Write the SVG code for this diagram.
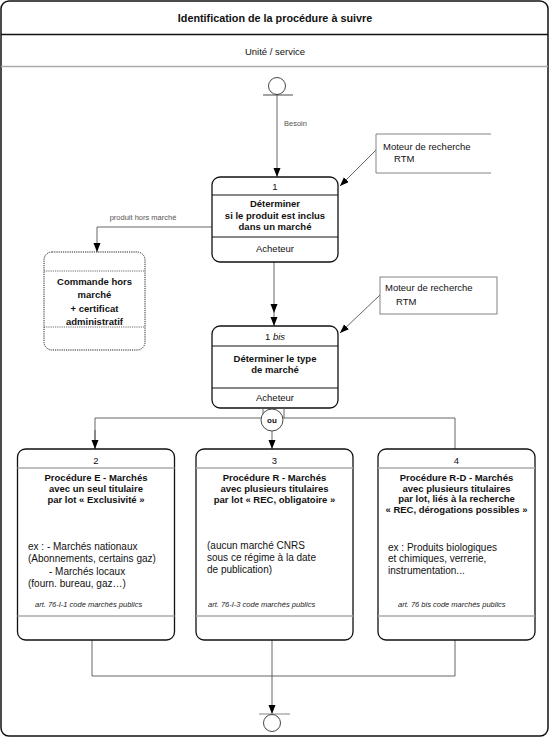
<svg xmlns="http://www.w3.org/2000/svg" width="550" height="738" viewBox="0 0 550 738">
<style>
text{font-family:"Liberation Sans",Arial,Helvetica,sans-serif;fill:#111}
.t{font-size:10.8px;font-weight:bold;text-anchor:middle}
.r{font-size:9.5px}
.p{font-size:10px}
.c{text-anchor:middle}
.b{font-size:9.5px;font-weight:bold;text-anchor:middle}
.s{font-size:7.5px;fill:#555}
.i{font-size:7.5px;font-style:italic;fill:#222}
.box{fill:#fff;stroke:#111;stroke-width:1.3}
.dv{stroke:#111;stroke-width:1}
.gv{stroke:#aaa;stroke-width:1.5}
.cn{fill:none;stroke:#555;stroke-width:0.9}
.note{fill:none;stroke:#777;stroke-width:0.9}
</style>
<defs>
<marker id="ar" markerUnits="userSpaceOnUse" markerWidth="10" markerHeight="8" refX="9" refY="3.5" orient="auto">
<path d="M0,0 L9,3.5 L0,7 z" fill="#000"/>
</marker>
</defs>
<g id="frame">
<rect x="1" y="1" width="547" height="735" rx="8" fill="#fff" stroke="#111" stroke-width="1.5"/>
<line x1="1" y1="34.5" x2="548" y2="34.5" stroke="#111" stroke-width="1.3"/>
<line x1="1" y1="66.5" x2="548" y2="66.5" stroke="#aaa" stroke-width="1.5"/>
<text class="t" x="275" y="22">Identification de la procédure à suivre</text>
<text class="r c" x="275" y="55">Unité / service</text>
</g>
<g id="connectors">
<line class="cn" x1="277" y1="95" x2="277" y2="177" marker-end="url(#ar)"/>
<text class="s" x="284" y="126">Besoin</text>
<path class="cn" d="M212,227 H97 V252" marker-end="url(#ar)"/>
<text class="s c" x="143" y="220">produit hors marché</text>
<line class="cn" x1="376" y1="150" x2="340" y2="186" marker-end="url(#ar)"/>
<line class="cn" x1="380" y1="295" x2="340" y2="333" marker-end="url(#ar)"/>
<line class="cn" x1="274" y1="262" x2="274" y2="313" marker-end="url(#ar)"/>
<line class="cn" x1="274" y1="313" x2="274" y2="326" marker-end="url(#ar)"/>
<path class="cn" d="M95,449 V418 H455 V449"/>
<line class="cn" x1="95" y1="430" x2="95" y2="449" marker-end="url(#ar)"/>
<line class="cn" x1="272" y1="431" x2="272" y2="449" marker-end="url(#ar)"/>
<path class="cn" d="M92,640 V676 H455 V640"/>
<line class="cn" x1="272" y1="640" x2="272" y2="714" marker-end="url(#ar)"/>
</g>
<g id="start">
<circle cx="277" cy="86" r="8.5" fill="#fff" stroke="#333" stroke-width="0.9"/>
<line x1="263" y1="95" x2="293" y2="95" stroke="#333" stroke-width="0.9"/>
</g>
<g id="note1">
<path class="note" d="M491,134 H376 V173 H491"/>
<text class="r" x="383" y="150">Moteur de recherche</text>
<text class="r" x="394" y="162">RTM</text>
</g>
<g id="node1">
<rect class="box" x="212" y="177" width="126" height="85" rx="8"/>
<line class="dv" x1="212" y1="195" x2="338" y2="195"/>
<line class="dv" x1="212" y1="237" x2="338" y2="237"/>
<text class="r c" x="275" y="190">1</text>
<text class="b" x="275" y="207">Déterminer</text>
<text class="b" x="275" y="219">si le produit est inclus</text>
<text class="b" x="275" y="230">dans un marché</text>
<text class="r c" x="275" y="252">Acheteur</text>
</g>
<g id="hors">
<rect x="44" y="252" width="101" height="98" rx="8" fill="#fff" stroke="#222" stroke-width="1" stroke-dasharray="1.2,1"/>
<line x1="44" y1="271" x2="145" y2="271" stroke="#444" stroke-width="0.8" stroke-dasharray="1.2,1"/>
<line x1="44" y1="327" x2="145" y2="327" stroke="#444" stroke-width="0.8" stroke-dasharray="1.2,1"/>
<text class="b" x="94.5" y="285">Commande hors</text>
<text class="b" x="94.5" y="298">marché</text>
<text class="b" x="94.5" y="312">+ certificat</text>
<text class="b" x="94.5" y="325">administratif</text>
</g>
<g id="note2">
<rect class="note" x="380" y="277" width="117" height="37"/>
<text class="r" x="385" y="291">Moteur de recherche</text>
<text class="r" x="396" y="305">RTM</text>
</g>
<g id="node1bis">
<rect class="box" x="212" y="326" width="126" height="82" rx="8"/>
<line class="dv" x1="212" y1="346" x2="338" y2="346"/>
<line class="dv" x1="212" y1="388" x2="338" y2="388"/>
<text class="r c" x="275" y="340">1 <tspan font-style="italic">bis</tspan></text>
<text class="b" x="275" y="362">Déterminer le type</text>
<text class="b" x="275" y="373">de marché</text>
<text class="r c" x="275" y="401">Acheteur</text>
</g>
<g id="ou">
<line x1="263" y1="408" x2="263" y2="418" stroke="#555" stroke-width="0.9"/>
<line x1="284" y1="408" x2="284" y2="418" stroke="#555" stroke-width="0.9"/>
<circle cx="272" cy="420" r="11" fill="#fff" stroke="#333" stroke-width="0.9"/>
<text x="272" y="423" font-size="8" font-weight="bold" text-anchor="middle">ou</text>
</g>
<g id="node2">
<rect class="box" x="17.5" y="449" width="157" height="191" rx="8"/>
<line class="gv" x1="17.5" y1="468" x2="174.5" y2="468"/>
<line class="gv" x1="17.5" y1="616" x2="174.5" y2="616"/>
<text class="r c" x="96" y="464">2</text>
<text class="b" x="96" y="481">Procédure E - Marchés</text>
<text class="b" x="96" y="492">avec un seul titulaire</text>
<text class="b" x="96" y="503">par lot « Exclusivité »</text>
<text class="p" x="28" y="550">ex : - Marchés nationaux</text>
<text class="p" x="28" y="562">(Abonnements, certains gaz)</text>
<text class="p" x="49" y="575">- Marchés locaux</text>
<text class="p" x="28" y="587">(fourn. bureau, gaz…)</text>
<text class="i" x="35" y="607">art. 76-I-1 code marchés publics</text>
</g>
<g id="node3">
<rect class="box" x="196" y="449" width="157" height="191" rx="8"/>
<line class="gv" x1="196" y1="468" x2="353" y2="468"/>
<line class="gv" x1="196" y1="616" x2="353" y2="616"/>
<text class="r c" x="274.5" y="464">3</text>
<text class="b" x="274.5" y="481">Procédure R - Marchés</text>
<text class="b" x="274.5" y="492">avec plusieurs titulaires</text>
<text class="b" x="274.5" y="503">par lot « REC, obligatoire »</text>
<text class="p" x="207" y="549">(aucun marché CNRS</text>
<text class="p" x="207" y="561">sous ce régime à la date</text>
<text class="p" x="207" y="573">de publication)</text>
<text class="i" x="208" y="607">art. 76-I-3 code marchés publics</text>
</g>
<g id="node4">
<rect class="box" x="378" y="449" width="157" height="191" rx="8"/>
<line class="gv" x1="378" y1="468" x2="535" y2="468"/>
<line class="gv" x1="378" y1="616" x2="535" y2="616"/>
<text class="r c" x="456.5" y="464">4</text>
<text class="b" x="456.5" y="481">Procédure R-D - Marchés</text>
<text class="b" x="456.5" y="492">avec plusieurs titulaires</text>
<text class="b" x="456.5" y="502">par lot, liés à la recherche</text>
<text class="b" x="456.5" y="513">« REC, dérogations possibles »</text>
<text class="p" x="388" y="551">ex : Produits biologiques</text>
<text class="p" x="388" y="562">et chimiques, verrerie,</text>
<text class="p" x="388" y="574">instrumentation...</text>
<text class="i" x="398" y="607">art. 76 bis code marchés publics</text>
</g>
<g id="end">
<line x1="259" y1="714" x2="290" y2="714" stroke="#999" stroke-width="1.2"/>
<circle cx="272" cy="723" r="8.5" fill="#fff" stroke="#333" stroke-width="0.9"/>
</g>
</svg>
